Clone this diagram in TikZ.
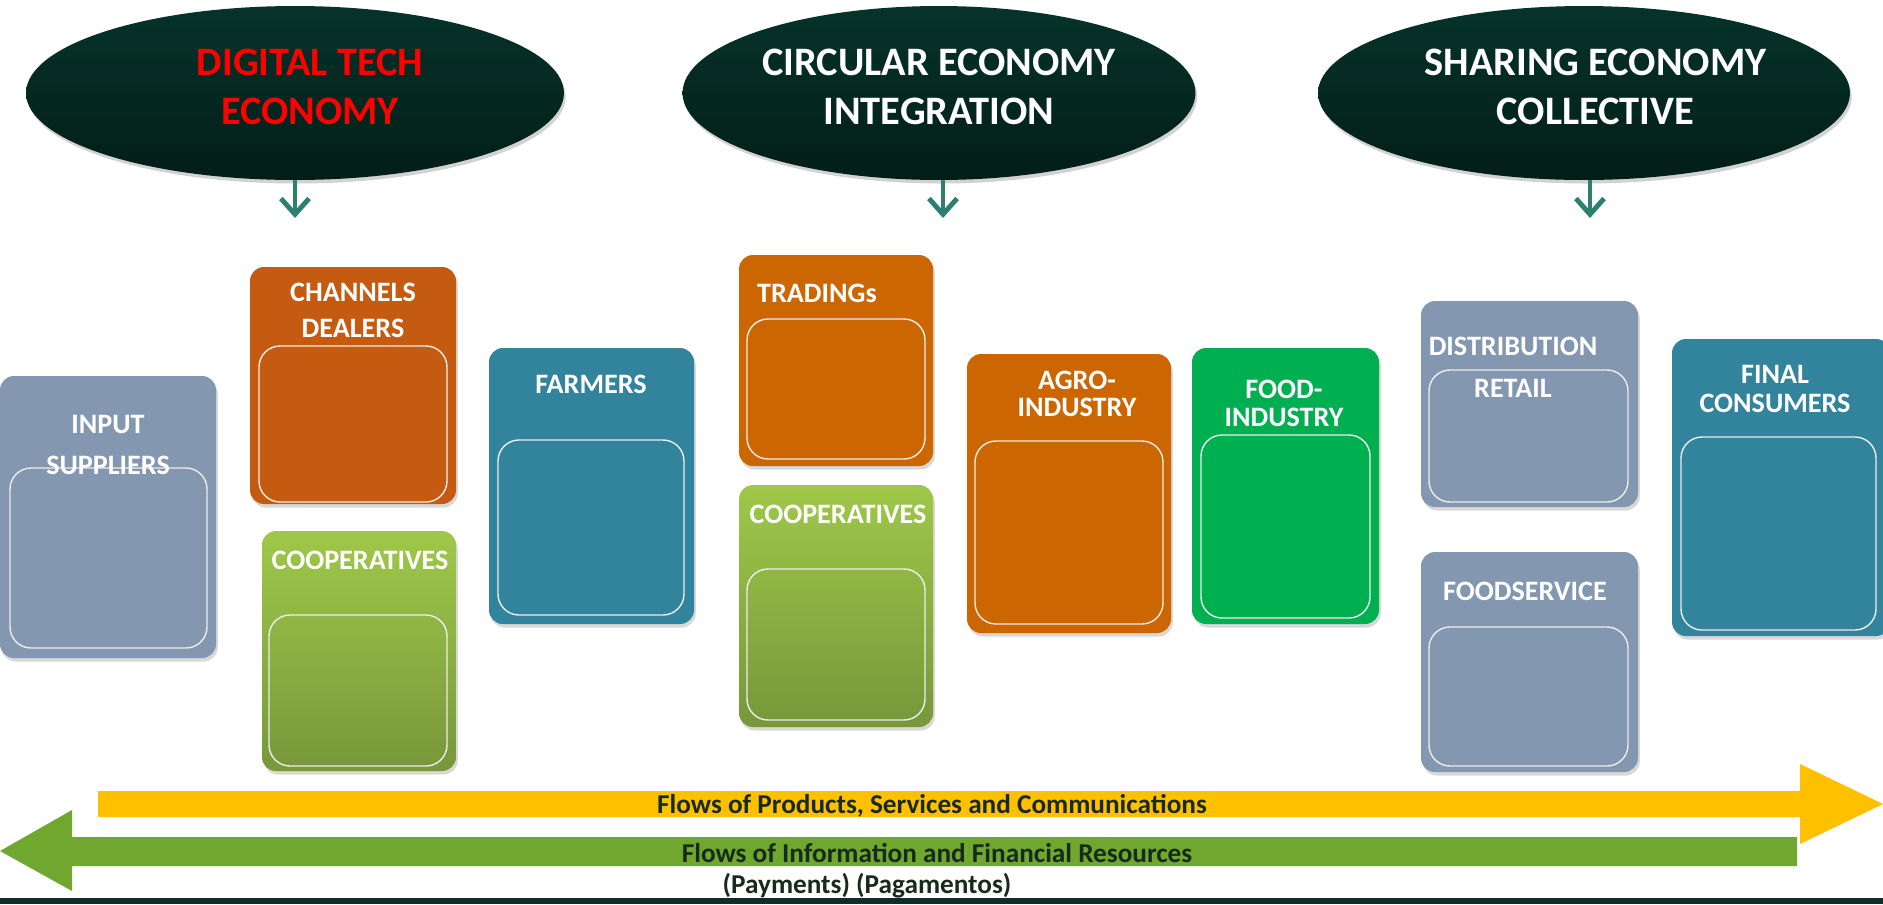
\documentclass[tikz,border=0pt]{standalone}
\usepackage{fontspec}
\setmainfont{Carlito}
\usepackage{tikz}
\usetikzlibrary{shapes.geometric, arrows.meta, positioning, fit, shadows}

\definecolor{slate}{HTML}{8497B0}
\definecolor{rust}{HTML}{C55A11}
\definecolor{amber}{HTML}{CC6600}
\definecolor{petrol}{HTML}{31849B}
\definecolor{leaf}{HTML}{00B050}
\definecolor{coopTop}{HTML}{9FC849}
\definecolor{coopBot}{HTML}{77973A}
\definecolor{forestTop}{HTML}{06332A}
\definecolor{forestBot}{HTML}{021E17}
\definecolor{pointer}{HTML}{2D7F6F}
\definecolor{flowYellow}{HTML}{FFC000}
\definecolor{flowGreen}{HTML}{6FA72F}
\definecolor{flowText}{HTML}{182A1C}
\definecolor{band}{HTML}{0E2E26}

\begin{document}
\begin{tikzpicture}[x=0.02cm, y=-0.02cm,
  theme/.style={ellipse, inner sep=0pt, top color=forestTop, bottom color=forestBot,
    drop shadow={shadow xshift=1pt, shadow yshift=-2pt, opacity=0.35}},
  themetxt/.style={text=white, align=center, inner sep=0pt, font=\fontsize{23}{27.5}\selectfont\bfseries},
  card/.style={rectangle, rounded corners=0.28cm, inner sep=0pt,
    drop shadow={shadow xshift=1pt, shadow yshift=-2pt, opacity=0.3}},
  coop/.style={card, top color=coopTop, bottom color=coopBot},
  panel/.style={rectangle, rounded corners=0.42cm, draw=white!85!gray, line width=0.8pt, inner sep=0pt},
  lbl/.style={text=white, align=center, inner sep=0pt, font=\fontsize{16}{22}\selectfont\bfseries},
  down/.style={-{Straight Barb[length=9pt, width=16pt]}, draw=pointer, line width=2.8pt},
  flowtxt/.style={text=flowText, inner sep=0pt, font=\fontsize{15.5}{18}\selectfont\bfseries}
]
  \useasboundingbox (0,0) rectangle (1883,904);
  \fill[white] (0,0) rectangle (1883,904);

  % the three economies
  \node[theme, minimum width=10.76cm, minimum height=3.48cm,
    label={[themetxt, text=red, xshift=8.5pt, yshift=3.4pt]center:DIGITAL TECH\\ECONOMY}]
    (digital) at (295,93) {};
  \node[theme, minimum width=10.26cm, minimum height=3.48cm,
    label={[themetxt, yshift=3.4pt]center:CIRCULAR ECONOMY\\INTEGRATION}]
    (circular) at (939,93) {};
  \node[theme, minimum width=10.64cm, minimum height=3.48cm,
    label={[themetxt, xshift=6.5pt, yshift=3.4pt]center:SHARING ECONOMY\\COLLECTIVE}]
    (sharing) at (1584,93) {};

  \coordinate (digitalTo) at (295,218);
  \coordinate (circularTo) at (943,218);
  \coordinate (sharingTo) at (1590,218);
  \draw[down] (digital.south) -- (digitalTo);
  \draw[down] (circular.south -| circularTo) -- (circularTo);
  \draw[down] (sharing.south -| sharingTo) -- (sharingTo);

  % chain actors
  \node[card, fill=slate, fit={(0,376) (216,658)}] (input) {};
  \node[panel, fit={(10,468) (207,648)}] (inputIn) {};
  \node[lbl] at (108,445) {INPUT\\[1.5pt]SUPPLIERS};

  \node[card, fill=rust, fit={(250,267) (456,504)}] (dealers) {};
  \node[panel, fit={(259,346) (447,502)}] (dealersIn) {};
  \node[lbl, font=\fontsize{16}{20.5}\selectfont\bfseries] at (353,310) {CHANNELS\\DEALERS};

  \node[coop, fit={(262,531) (456,771)}] (coopA) {};
  \node[panel, fit={(269,615) (447,766)}] (coopAIn) {};
  \node[lbl] at (360,560) {COOPERATIVES};

  \node[card, fill=petrol, fit={(489,348) (694,624)}] (farmers) {};
  \node[panel, fit={(498,440) (684,615)}] (farmersIn) {};
  \node[lbl] at (591,384) {FARMERS};

  \node[card, fill=amber, fit={(739,255) (933,466)}] (tradings) {};
  \node[panel, fit={(747,319) (925,459)}] (tradingsIn) {};
  \node[lbl] at (817,293) {TRADINGs};

  \node[coop, fit={(739,485) (933,727)}] (coopB) {};
  \node[panel, fit={(747,569) (925,720)}] (coopBIn) {};
  \node[lbl] at (838,514) {COOPERATIVES};

  \node[card, fill=amber, fit={(967,354) (1171,633)}] (agro) {};
  \node[panel, fit={(975,441) (1163,624)}] (agroIn) {};
  \node[lbl, font=\fontsize{16}{15}\selectfont\bfseries] at (1077,394) {AGRO-\\INDUSTRY};

  \node[card, fill=leaf, fit={(1192,348) (1379,624)}] (food) {};
  \node[panel, fit={(1201,435) (1370,618)}] (foodIn) {};
  \node[lbl, font=\fontsize{16}{16}\selectfont\bfseries] at (1284,403) {FOOD-\\INDUSTRY};

  \node[card, fill=slate, fit={(1421,301) (1638,507)}] (retail) {};
  \node[panel, fit={(1429,370) (1628,502)}] (retailIn) {};
  \node[lbl, font=\fontsize{16}{24}\selectfont\bfseries] at (1513,367) {DISTRIBUTION\\RETAIL};

  \node[card, fill=slate, fit={(1421,552) (1638,772)}] (service) {};
  \node[panel, fit={(1429,627) (1628,766)}] (serviceIn) {};
  \node[lbl] at (1525,591) {FOODSERVICE};

  \node[card, fill=petrol, fit={(1672,339) (1890,636)}] (consumers) {};
  \node[panel, fit={(1681,437) (1876,630)}] (consumersIn) {};
  \node[lbl, font=\fontsize{16}{16.5}\selectfont\bfseries] at (1775,389) {FINAL\\CONSUMERS};

  % flows along the chain
  \fill[flowYellow] (98,791) -- (1800,791) -- (1800,764) -- (1883,804)
    -- (1800,844) -- (1800,817) -- (98,817) -- cycle;
  \fill[flowGreen] (1797,837) -- (72,837) -- (72,810) -- (0,851)
    -- (72,891) -- (72,866) -- (1797,866) -- cycle;
  \node[flowtxt] (products) at (932,806) {Flows of Products, Services and Communications};
  \node[flowtxt] (finance) at (937,853) {Flows of Information and Financial Resources};
  \node[flowtxt] (payments) at (867,886) {(Payments) (Pagamentos)};

  \fill[band] (0,898) rectangle (1883,904);
\end{tikzpicture}
\end{document}
